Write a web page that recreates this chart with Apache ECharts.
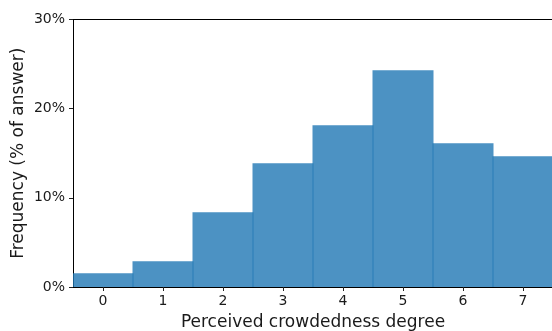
<!DOCTYPE html>
<html><head><meta charset="utf-8">
<script src="https://cdn.jsdelivr.net/npm/echarts@6/dist/echarts.min.js"></script>
<style>html,body{margin:0;padding:0;background:#fff}#c{width:552px;height:331px}</style>
</head><body><div id="c"></div>
<script>
var categories = ['0','1','2','3','4','5','6','7'];
var frequency = [1.54, 2.88, 8.38, 13.88, 18.15, 24.32, 16.13, 14.67];
var yTicks = [0, 10, 20, 30];
var xTitle = 'Perceived crowdedness degree';
var yTitle = 'Frequency (% of answer)';

var chart = echarts.init(document.getElementById('c'), null, {renderer:'canvas'});
var font = 'DejaVu Sans';
chart.setOption({
  animation:false,
  grid:{left:73, top:19.5, width:480, height:267.5, containLabel:false, outerBoundsMode:'none'},
  xAxis:[{
    type:'category', data:categories, position:'bottom',
    boundaryGap:true,
    axisLine:{show:true, lineStyle:{color:'#000', width:1}},
    axisTick:{show:true, alignWithLabel:true, length:4, lineStyle:{color:'#222'}},
    axisLabel:{fontFamily:font, fontSize:14, color:'#1a1a1a', margin:7},
    name:xTitle, nameLocation:'middle', nameGap:27, nameMoveOverlap:false,
    nameTextStyle:{fontFamily:font, fontSize:17, color:'#1a1a1a'},
    splitLine:{show:false}
  },{
    type:'value', position:'top', min:0, max:1,
    axisLine:{show:true, onZero:false, lineStyle:{color:'#000', width:1}},
    axisTick:{show:false}, axisLabel:{show:false}, splitLine:{show:false}
  }],
  yAxis:{
    type:'value', min:yTicks[0], max:yTicks[yTicks.length-1], interval:10,
    axisLine:{show:true, lineStyle:{color:'#000', width:1}},
    axisTick:{show:true, length:4, lineStyle:{color:'#222'}},
    axisLabel:{fontFamily:font, fontSize:14, color:'#1a1a1a', margin:8,
      formatter:function(v){return v+'%';}},
    splitLine:{show:false},
    name:yTitle, nameLocation:'middle', nameGap:46, nameMoveOverlap:false,
    nameTextStyle:{fontFamily:font, fontSize:17, color:'#1a1a1a'}
  },
  series:[{
    type:'bar', data:frequency, xAxisIndex:0,
    barWidth:61, barGap:'-100%',
    itemStyle:{color:'rgba(31,119,180,0.8)', borderWidth:0}
  }]
});
</script></body></html>
